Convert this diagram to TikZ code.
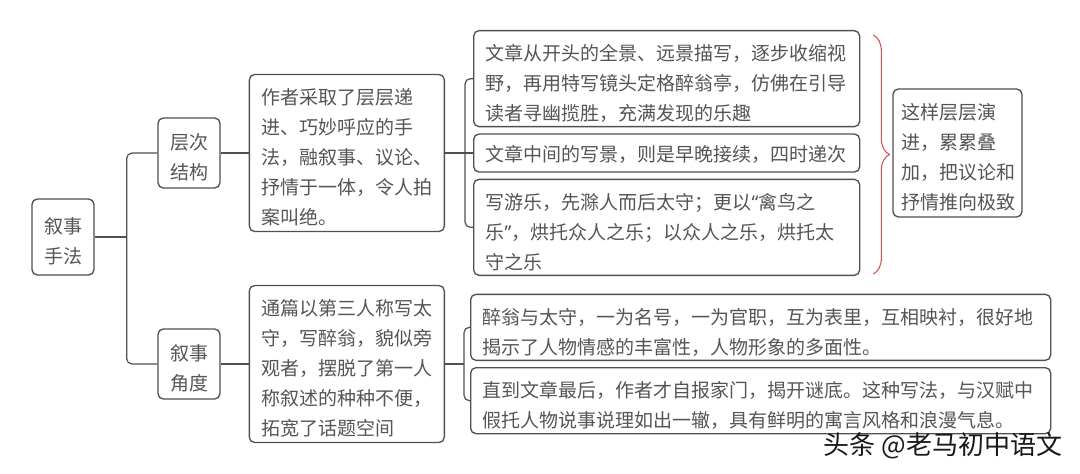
\documentclass[tikz,border=0pt]{standalone}
\usepackage{fontspec}
\setmainfont{Noto Sans CJK SC}
\newfontfamily\quotefont{Noto Sans}
\usetikzlibrary{positioning,calc,decorations.pathreplacing}
\definecolor{boxgray}{RGB}{80,80,80}
\definecolor{txtgray}{RGB}{85,85,85}
\definecolor{bracered}{RGB}{214,82,82}
\newcommand{\openq}{{\quotefont “}}
\newcommand{\closeq}{{\quotefont ”}}

\begin{document}
\begin{tikzpicture}[x=0.75pt,y=-0.75pt,
    box/.style={draw=boxgray,line width=1pt,rounded corners=4pt,fill=white,
                text=txtgray,align=left,inner xsep=9pt,inner ysep=0pt,
                font=\fontsize{14.25pt}{22.5pt}\selectfont,
                execute at end node={\endgraf\kern-7pt}},
    tag/.style={box,align=center,text width=28.5pt},
    link/.style={draw=boxgray,line width=0.9pt,rounded corners=4pt}]

\useasboundingbox (0,0) rectangle (1080,474);

\node[tag,minimum height=57pt] (root) at (63,237) {叙事\\手法};
\node[tag,minimum height=52.5pt] (s1) at (189,153) {层次\\结构};
\node[tag,minimum height=52.5pt] (s2) at (189,364) {叙事\\角度};

\node[box,right=21pt of s1,text width=128.25pt,minimum height=117.75pt] (t1)
  {作者采取了层层递\\进、巧妙呼应的手\\法，融叙事、议论、\\抒情于一体，令人拍\\案叫绝。};
\node[box,right=21pt of s2,text width=128.25pt,minimum height=117.75pt] (t2)
  {通篇以第三人称写太\\守，写醉翁，貌似旁\\观者，摆脱了第一人\\称叙述的种种不便，\\拓宽了话题空间};

\node[box,right=21pt of t1,text width=271.5pt,minimum height=28.5pt] (d2)
  {文章中间的写景，则是早晚接续，四时递次};
\node[box,above=4.5pt of d2,text width=271.5pt,minimum height=72pt] (d1)
  {文章从开头的全景、远景描写，逐步收缩视\\野，再用特写镜头定格醉翁亭，仿佛在引导\\读者寻幽揽胜，充满发现的乐趣};
\node[box,below=4.5pt of d2,text width=271.5pt,minimum height=72pt] (d3)
  {写游乐，先滁人而后太守；更以\openq 禽鸟之\\乐\closeq ，烘托众人之乐；以众人之乐，烘托太\\守之乐};
\node[box,right=24pt of d2,inner xsep=6pt,text width=84.75pt,minimum height=96pt] (sum)
  {这样层层演\\进，累累叠\\加，把议论和\\抒情推向极致};

\node[box,anchor=south west,text width=417pt,minimum height=49.5pt] (e1)
  at ($(t2.east)+(25,-3)$)
  {醉翁与太守，一为名号，一为官职，互为表里，互相映衬，很好地\\揭示了人物情感的丰富性，人物形象的多面性。};
\node[box,anchor=north west,text width=417pt,minimum height=49.5pt] (e2)
  at ($(t2.east)+(25,3)$)
  {直到文章最后，作者才自报家门，揭开谜底。这种写法，与汉赋中\\假托人物说事说理如出一辙，具有鲜明的寓言风格和浪漫气息。};

% connectors
\coordinate (rj) at ($(root.east)+(32,0)$);
\draw[link] (root.east) -- (rj);
\draw[link] (s1.west) -| (rj) |- (s2.west);
\draw[link] (s1.east) -- (t1.west);
\draw[link] (s2.east) -- (t2.west);

\coordinate (tj) at ($(t1.east)+(20,0)$);
\draw[link] (t1.east) -- (d2.west);
\draw[link] (d1.west) -| (tj) |- (d3.west);

\coordinate (uj) at ($(t2.east)+(19,0)$);
\draw[link] (t2.east) -- (uj);
\draw[link] (e1.west) -| (uj) |- (e2.west);

\coordinate (b1) at ($(d1.north east)+(13,5)$);
\coordinate (b2) at ($(d3.south east)+(13,-2)$);
\draw[bracered,line width=0.8pt,decorate,decoration={brace,amplitude=12pt}] (b1) -- (b2);

\node[text=black!90,font=\fontsize{19.5pt}{22pt}\selectfont] (wm) at (943,446) {头条 @老马初中语文};

\end{tikzpicture}
\end{document}
